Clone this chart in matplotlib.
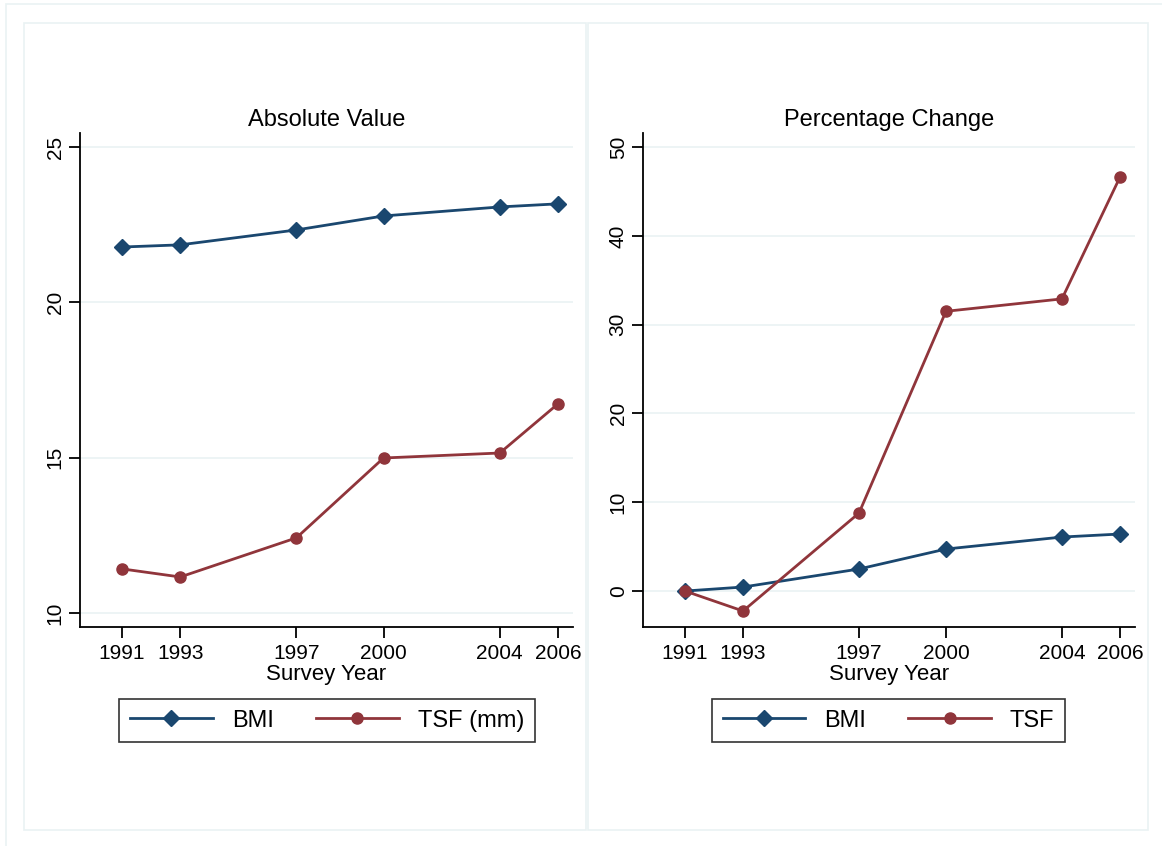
import matplotlib
matplotlib.use("Agg")
import matplotlib.pyplot as plt
from matplotlib.patches import Rectangle
from matplotlib.lines import Line2D

plt.rcParams['font.family'] = ['Liberation Sans', 'DejaVu Sans']

years = [1991, 1993, 1997, 2000, 2004, 2006]
bmi_abs = [21.78, 21.85, 22.33, 22.78, 23.07, 23.17]
tsf_abs = [11.42, 11.16, 12.42, 14.99, 15.15, 16.73]
bmi_pct = [0.0, 0.45, 2.48, 4.73, 6.08, 6.42]
tsf_pct = [0.0, -2.25, 8.78, 31.5, 32.9, 46.6]

abs_ticks = [10, 15, 20, 25]
pct_ticks = [0, 10, 20, 30, 40, 50]

NAVY = '#1a476f'
MAROON = '#90353b'
GRID = '#eaf2f3'

W, H = 1162, 846
fig = plt.figure(figsize=(W / 100, H / 100), dpi=100)
fig.patch.set_facecolor('white')

def px_rect(x0, y0, x1, y1):
    return [x0 / W, 1 - y1 / H, (x1 - x0) / W, (y1 - y0) / H]

# outer and panel borders
for (x0, y0, x1, y1) in [(6, 4, 1170, 860), (24, 23, 586, 830), (588, 23, 1148, 830)]:
    fig.patches.append(Rectangle((x0 / W, 1 - y1 / H), (x1 - x0) / W, (y1 - y0) / H,
                                 transform=fig.transFigure, fill=False,
                                 edgecolor=GRID, linewidth=1.2, zorder=0))

def make_panel(rect, bmi, tsf, yticks, ylim, title, labels, legend_rect):
    ax = fig.add_axes(rect)
    ax.plot(years, bmi, color=NAVY, marker='D', markersize=8, linewidth=2, zorder=3)
    ax.plot(years, tsf, color=MAROON, marker='o', markersize=8, linewidth=2, zorder=3)
    ax.set_xlim(1989.55, 2006.52)
    ax.set_ylim(*ylim)
    ax.set_xticks(years)
    ax.set_xticklabels([str(y) for y in years], fontsize=15)
    ax.set_yticks(yticks)
    ax.set_yticklabels([str(t) for t in yticks], fontsize=15, rotation=90, va='center')
    ax.yaxis.grid(True, color=GRID, linewidth=1.2)
    ax.set_axisbelow(True)
    for s in ['top', 'right']:
        ax.spines[s].set_visible(False)
    for s in ['left', 'bottom']:
        ax.spines[s].set_linewidth(1.3)
    ax.tick_params(axis='x', length=8, width=1.3, pad=4)
    ax.tick_params(axis='y', length=8, width=1.3, pad=3)
    ax.set_title(title, fontsize=17, pad=5)
    ax.set_xlabel('Survey Year', fontsize=16, labelpad=1)
    handles = [Line2D([], [], color=NAVY, marker='D', markersize=8, linewidth=2),
               Line2D([], [], color=MAROON, marker='o', markersize=8, linewidth=2)]
    lx0, ly0, lx1, ly1 = legend_rect
    leg = fig.legend(handles, labels, loc='center',
                     bbox_to_anchor=((lx0 + lx1) / 2 / W, 1 - (ly0 + ly1) / 2 / H),
                     ncol=2, fontsize=17, frameon=True, fancybox=False,
                     edgecolor='black', handlelength=3.5, columnspacing=1.8,
                     handletextpad=0.8, borderpad=0.45, borderaxespad=0)
    leg.get_frame().set_linewidth(1.2)
    return ax

make_panel(px_rect(80, 133, 573, 627), bmi_abs, tsf_abs, abs_ticks, (9.55, 25.45),
           'Absolute Value', ['BMI', 'TSF (mm)'], (117, 697, 537, 744))
make_panel(px_rect(643, 133, 1135, 627), bmi_pct, tsf_pct, pct_ticks, (-4.05, 51.58),
           'Percentage Change', ['BMI', 'TSF'], (712, 697, 1065, 744))

fig.savefig('out.png', dpi=100, facecolor='white')
